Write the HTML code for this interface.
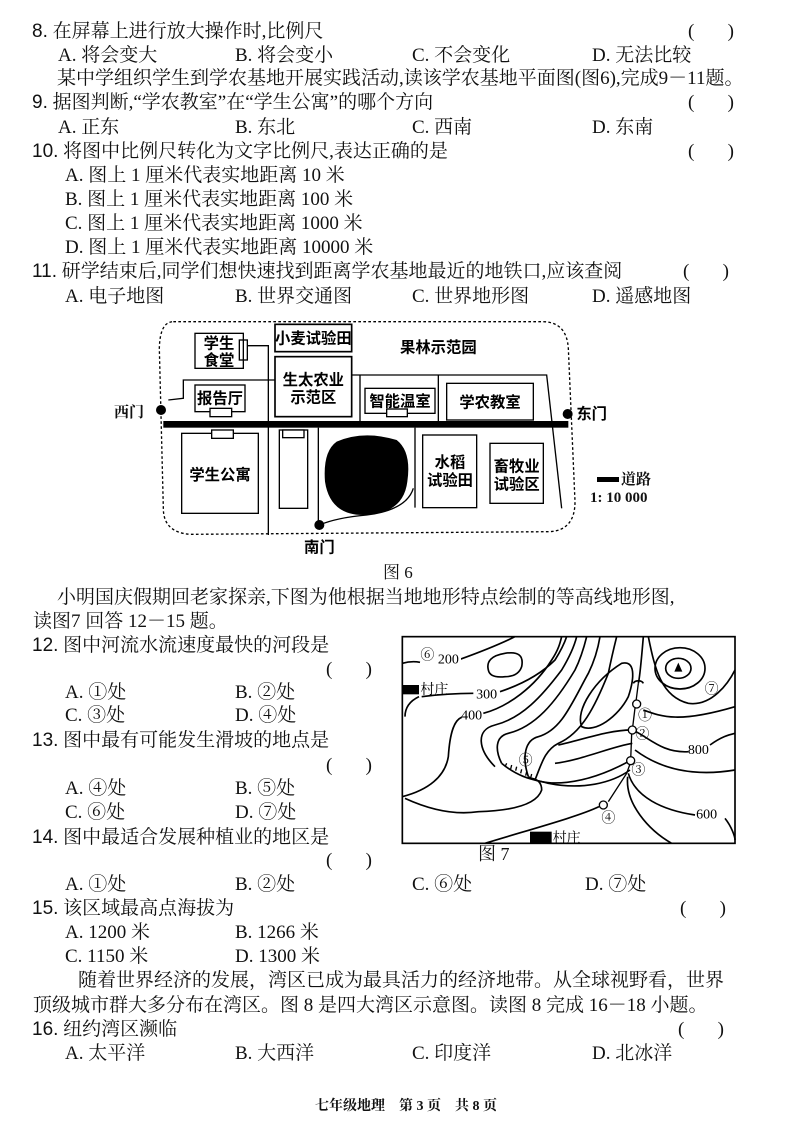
<!DOCTYPE html>
<html><head><meta charset="utf-8">
<style>
body{margin:0;width:794px;height:1123px;background:#fff;position:relative;overflow:hidden;font-family:"Liberation Serif","Noto Serif CJK SC","Noto Sans CJK SC",serif;color:#111;}
.t{position:absolute;font-size:19px;line-height:22px;white-space:nowrap;}
.n{font-family:"Liberation Sans","Noto Sans CJK SC",sans-serif;}
svg{position:absolute;}
</style></head><body>
<div class="t" style="left:32px;top:21px"><span class="n">8.</span> 在屏幕上进行放大操作时,比例尺</div>
<div class="t" style="left:688px;top:21px">(&nbsp;&nbsp;&nbsp;&nbsp;&nbsp;&nbsp;&nbsp;)</div>
<div class="t" style="left:58px;top:45px">A. 将会变大</div><div class="t" style="left:235px;top:45px">B. 将会变小</div><div class="t" style="left:412px;top:45px">C. 不会变化</div><div class="t" style="left:592px;top:45px">D. 无法比较</div>
<div class="t" style="left:57px;top:68px">某中学组织学生到学农基地开展实践活动,读该学农基地平面图(图6),完成9－11题。</div>
<div class="t" style="left:32px;top:92px"><span class="n">9.</span> 据图判断,“学农教室”在“学生公寓”的哪个方向</div>
<div class="t" style="left:688px;top:92px">(&nbsp;&nbsp;&nbsp;&nbsp;&nbsp;&nbsp;&nbsp;)</div>
<div class="t" style="left:58px;top:117px">A. 正东</div><div class="t" style="left:235px;top:117px">B. 东北</div><div class="t" style="left:412px;top:117px">C. 西南</div><div class="t" style="left:592px;top:117px">D. 东南</div>
<div class="t" style="left:32px;top:141px"><span class="n">10.</span> 将图中比例尺转化为文字比例尺,表达正确的是</div>
<div class="t" style="left:688px;top:141px">(&nbsp;&nbsp;&nbsp;&nbsp;&nbsp;&nbsp;&nbsp;)</div>
<div class="t" style="left:65px;top:165px">A. 图上 1 厘米代表实地距离 10 米</div>
<div class="t" style="left:65px;top:189px">B. 图上 1 厘米代表实地距离 100 米</div>
<div class="t" style="left:65px;top:213px">C. 图上 1 厘米代表实地距离 1000 米</div>
<div class="t" style="left:65px;top:237px">D. 图上 1 厘米代表实地距离 10000 米</div>
<div class="t" style="left:32px;top:261px"><span class="n">11.</span> 研学结束后,同学们想快速找到距离学农基地最近的地铁口,应该查阅</div>
<div class="t" style="left:683px;top:261px">(&nbsp;&nbsp;&nbsp;&nbsp;&nbsp;&nbsp;&nbsp;)</div>
<div class="t" style="left:65px;top:286px">A. 电子地图</div><div class="t" style="left:235px;top:286px">B. 世界交通图</div><div class="t" style="left:412px;top:286px">C. 世界地形图</div><div class="t" style="left:592px;top:286px">D. 遥感地图</div>

<svg style="left:150px;top:315px" width="500" height="240" viewBox="0 0 1500 720">
<g fill="none" stroke="#000" stroke-width="4">
<path d="M70,20 L1180,20 Q1250,22 1255,100 L1275,560 Q1275,645 1200,650 L120,658 Q40,652 40,580 L28,100 Q30,20 70,20 Z" stroke-dasharray="8 7"/>
<rect x="135" y="55" width="145" height="105"/>
<rect x="268" y="75" width="24" height="60"/>
<path d="M292,92 L355,92 L355,660"/>
<rect x="375" y="28" width="230" height="82" stroke-width="5"/>
<rect x="375" y="125" width="230" height="180" stroke-width="5"/>
<path d="M55,255 L100,250 L100,195 L375,195"/>
<rect x="135" y="210" width="150" height="80"/>
<rect x="180" y="280" width="65" height="25" fill="#fff"/>
<path d="M605,180 L1190,180 L1235,580 M630,180 L630,318 M865,180 L865,318"/>
<rect x="645" y="220" width="210" height="75"/>
<rect x="710" y="282" width="62" height="23" fill="#fff"/>
<rect x="890" y="205" width="260" height="110"/>
<rect x="95" y="355" width="230" height="240"/>
<rect x="185" y="345" width="65" height="25" fill="#fff"/>
<rect x="388" y="345" width="85" height="235"/>
<rect x="398" y="345" width="64" height="23" fill="#fff"/>
<path d="M505,338 L505,630"/>
<path d="M508,630 Q560,608 650,600 Q770,585 790,520 M795,338 L795,578"/>
<rect x="818" y="360" width="162" height="218"/>
<rect x="1020" y="385" width="160" height="180"/>
</g>
<rect x="40" y="318" width="1215" height="20" fill="#000"/>
<path d="M560,380 Q640,345 740,375 Q785,410 772,500 Q760,598 640,600 Q540,600 525,500 Q518,410 560,380 Z" fill="#000"/>
<circle cx="33" cy="285" r="15"/><circle cx="1253" cy="297" r="15"/><circle cx="508" cy="630" r="15"/>
<g font-size="46" font-weight="bold" font-family="Liberation Sans,Noto Sans CJK SC,sans-serif" text-anchor="middle">
<text x="207" y="100">学生</text><text x="207" y="152">食堂</text>
<text x="490" y="85">小麦试验田</text>
<text x="865" y="112">果林示范园</text>
<text x="490" y="210">生太农业</text><text x="490" y="262">示范区</text>
<text x="210" y="265">报告厅</text>
<text x="750" y="275">智能温室</text>
<text x="1020" y="278">学农教室</text>
<text x="1325" y="312">东门</text>
<text x="210" y="495">学生公寓</text>
<text x="900" y="458">水稻</text><text x="900" y="512">试验田</text>
<text x="1100" y="470">畜牧业</text><text x="1100" y="524">试验区</text>
<text x="508" y="712">南门</text>
</g>
</svg>
<div class="t" style="left:114px;top:402px;font-size:15px;font-weight:bold">西门</div>
<div style="position:absolute;left:597px;top:477px;width:22px;height:5px;background:#000"></div>
<div class="t" style="left:621px;top:469px;font-size:15px;font-weight:bold">道路</div>
<div class="t" style="left:590px;top:487px;font-size:15px;font-weight:bold">1: 10 000</div>
<div class="t" style="left:383px;top:562px;font-size:17px">图 6</div>

<div class="t" style="left:57px;top:587px">小明国庆假期回老家探亲,下图为他根据当地地形特点绘制的等高线地形图,</div>
<div class="t" style="left:33px;top:611px">读图7 回答 12－15 题。</div>
<div class="t" style="left:32px;top:635px"><span class="n">12.</span> 图中河流水流速度最快的河段是</div>
<div class="t" style="left:326px;top:659px">(&nbsp;&nbsp;&nbsp;&nbsp;&nbsp;&nbsp;&nbsp;)</div>
<div class="t" style="left:65px;top:682px">A. ①处</div><div class="t" style="left:235px;top:682px">B. ②处</div>
<div class="t" style="left:65px;top:705px">C. ③处</div><div class="t" style="left:235px;top:705px">D. ④处</div>
<div class="t" style="left:32px;top:730px"><span class="n">13.</span> 图中最有可能发生滑坡的地点是</div>
<div class="t" style="left:326px;top:755px">(&nbsp;&nbsp;&nbsp;&nbsp;&nbsp;&nbsp;&nbsp;)</div>
<div class="t" style="left:65px;top:778px">A. ④处</div><div class="t" style="left:235px;top:778px">B. ⑤处</div>
<div class="t" style="left:65px;top:802px">C. ⑥处</div><div class="t" style="left:235px;top:802px">D. ⑦处</div>
<div class="t" style="left:32px;top:827px"><span class="n">14.</span> 图中最适合发展种植业的地区是</div>
<div class="t" style="left:326px;top:850px">(&nbsp;&nbsp;&nbsp;&nbsp;&nbsp;&nbsp;&nbsp;)</div>
<div class="t" style="left:65px;top:874px">A. ①处</div><div class="t" style="left:235px;top:874px">B. ②处</div><div class="t" style="left:412px;top:874px">C. ⑥处</div><div class="t" style="left:585px;top:874px">D. ⑦处</div>
<div class="t" style="left:32px;top:898px"><span class="n">15.</span> 该区域最高点海拔为</div>
<div class="t" style="left:680px;top:898px">(&nbsp;&nbsp;&nbsp;&nbsp;&nbsp;&nbsp;&nbsp;)</div>
<div class="t" style="left:65px;top:922px">A. 1200 米</div><div class="t" style="left:235px;top:922px">B. 1266 米</div>
<div class="t" style="left:65px;top:946px">C. 1150 米</div><div class="t" style="left:235px;top:946px">D. 1300 米</div>
<div class="t" style="left:78px;top:970px">随着世界经济的发展，湾区已成为最具活力的经济地带。从全球视野看，世界</div>
<div class="t" style="left:33px;top:995px">顶级城市群大多分布在湾区。图 8 是四大湾区示意图。读图 8 完成 16－18 小题。</div>
<div class="t" style="left:32px;top:1019px"><span class="n">16.</span> 纽约湾区濒临</div>
<div class="t" style="left:678px;top:1019px">(&nbsp;&nbsp;&nbsp;&nbsp;&nbsp;&nbsp;&nbsp;)</div>
<div class="t" style="left:65px;top:1043px">A. 太平洋</div><div class="t" style="left:235px;top:1043px">B. 大西洋</div><div class="t" style="left:412px;top:1043px">C. 印度洋</div><div class="t" style="left:592px;top:1043px">D. 北冰洋</div>
<div class="t" style="left:315px;top:1096px;font-size:14px;font-weight:bold">七年级地理　第 3 页　共 8 页</div>

<svg style="left:395px;top:630px" width="350" height="240" viewBox="0 0 1050 720">
<g fill="none" stroke="#000" stroke-width="5">
<rect x="22" y="20" width="998" height="620"/>
<path d="M22,100 Q50,92 75,97"/>
<path d="M195,88 Q300,50 360,20"/>
<path d="M280,120 Q270,80 330,70 Q390,60 380,110 Q370,140 330,140 Q285,145 280,120 Z"/>
<path d="M72,200 Q30,220 30,260"/>
<path d="M80,200 Q160,190 235,190"/>
<path d="M315,185 Q420,150 480,90 Q505,50 515,20"/>
<path d="M22,500 C100,480 150,440 160,380 C165,300 180,270 200,262"/>
<path d="M265,250 C340,230 420,170 470,90 C490,60 495,40 500,20"/>
<path d="M30,505 Q150,560 250,545 Q420,540 440,480 Q440,450 410,445"/>
<path d="M300,410 C250,360 240,300 300,285 C380,265 440,200 500,120 C530,70 540,40 545,20"/>
<path d="M320,400 C300,360 300,320 340,310 C420,290 480,220 540,120 C560,80 570,40 575,20"/>
<path d="M400,440 C380,380 390,330 430,320 C500,300 530,220 580,130 C600,90 610,50 615,20"/>
<path d="M420,450 C440,400 450,360 490,340 C560,310 600,230 640,130 C650,80 660,40 665,20"/>
<path d="M560,290 C540,240 600,150 680,100 C720,90 720,140 700,200 C670,260 600,310 560,290 Z"/>
<path d="M320,400 C380,450 430,450 460,460 C560,480 650,460 705,420"/>
<path d="M400,440 C450,470 560,470 700,395"/>
<path d="M490,345 C560,330 640,300 710,300"/>
<path d="M480,400 C560,390 650,350 712,340"/>
<path d="M715,160 C720,150 740,150 745,160"/>
<path d="M745,20 C740,80 735,140 730,160"/>
<path d="M712,300 C760,320 800,370 880,365"/>
<path d="M945,345 C980,320 1000,315 1020,310"/>
<path d="M720,360 C800,420 900,440 1020,420"/>
<path d="M745,240 C800,260 850,280 1020,230"/>
<path d="M760,20 C780,120 800,200 880,220 C950,230 1000,160 1020,120"/>
<ellipse cx="850" cy="115" rx="38" ry="30"/>
<ellipse cx="855" cy="115" rx="75" ry="62"/>
<path d="M700,430 C720,500 800,540 900,555"/>
<path d="M990,565 C1010,590 1020,620 1020,630"/>
<path d="M698,440 C690,520 760,600 830,640"/>
<path d="M270,640 C400,600 550,560 612,530"/>
<path d="M730,160 L722,222 M720,234 L712,300 M710,312 L707,390 M705,402 L695,430 L640,515" stroke-width="4"/>
<path d="M335,400 l-5,10 M350,405 l-3,12 M365,410 l-3,12 M380,418 l-3,12 M395,425 l-3,12 M410,432 l-3,12" stroke-width="4"/>
</g>
<g fill="#fff" stroke="#000" stroke-width="4">
<circle cx="725" cy="222" r="12"/><circle cx="712" cy="300" r="12"/><circle cx="707" cy="392" r="12"/><circle cx="625" cy="525" r="12"/>
</g>
<path d="M850,98 L838,125 L862,125 Z" fill="#000"/>
<rect x="22" y="165" width="50" height="28" fill="#000"/>
<rect x="405" y="605" width="65" height="35" fill="#000"/>
<g font-size="42" font-family="Liberation Serif,Noto Serif CJK SC,serif" text-anchor="middle">
<rect x="128" y="65" width="70" height="38" fill="#fff"/>
<text x="97" y="88">⑥</text><text x="160" y="100">200</text>
<text x="118" y="192">村庄</text>
<text x="275" y="205">300</text><text x="230" y="268">400</text>
<text x="392" y="405">⑤</text>
<text x="750" y="270">①</text><text x="742" y="325">②</text><text x="730" y="433">③</text><text x="640" y="578">④</text>
<text x="950" y="190">⑦</text>
<text x="910" y="372">800</text><text x="935" y="565">600</text>
<text x="515" y="638">村庄</text>
</g>
</svg>
<div class="t" style="left:478px;top:843px;font-size:18px">图 7</div>
</body></html>
